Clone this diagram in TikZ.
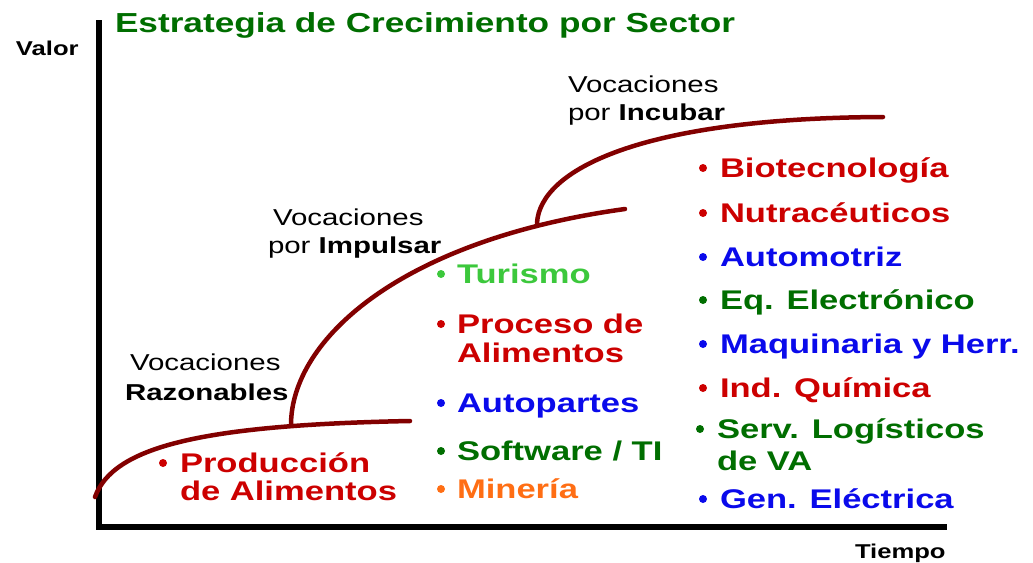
\documentclass[tikz,border=0pt]{standalone}
\usepackage{fontspec}
\setmainfont[FakeStretch=1.28]{Liberation Sans}
\definecolor{curvec}{RGB}{130,0,0}
\definecolor{itred}{RGB}{204,0,0}
\definecolor{itblue}{RGB}{10,10,235}
\definecolor{itdkgreen}{RGB}{0,110,0}
\definecolor{itltgreen}{RGB}{60,200,60}
\definecolor{itorange}{RGB}{255,110,20}
\begin{document}
\begin{tikzpicture}[x=1pt,y=-1pt,
  every node/.style={inner sep=0pt,outer sep=0pt},
  txt/.style={anchor=base west,font=\fontsize{27}{29}\selectfont\bfseries},
  voc/.style={anchor=base west,font=\fontsize{23}{26}\selectfont},
  axlab/.style={anchor=base west,font=\fontsize{20}{22}\selectfont\bfseries},
  dot/.style={circle,fill,minimum size=8pt},
  axis/.style={line width=5.5pt,black},
  growth/.style={line width=4.5pt,curvec,line cap=round}]
\useasboundingbox (0,0) rectangle (1033,562);
% axes
\coordinate (top) at (99,20);
\coordinate (orig) at (99,527);
\coordinate (right) at (947,527);
\draw[axis] (top) -- (orig) -- (right);
% labels
\node[axlab] (valor) at (16,55) {Valor};
\node[axlab] (tiempo) at (855,558) {Tiempo};
\node[anchor=base west,font=\fontsize{27.5}{30}\selectfont\bfseries,text=itdkgreen] (title) at (115,32) {Estrategia de Crecimiento por Sector};
% curves
\coordinate (c1s) at (95,497);
\coordinate (c1e) at (410,421);
\coordinate (c2s) at (291,425);
\coordinate (c2e) at (625,209);
\coordinate (c3s) at (537,223);
\coordinate (c3e) at (883,117);
\draw[growth] (c1s) .. controls (113,447) and (200,425) .. (c1e);
\draw[growth] (c2s) .. controls (291,340) and (400,240) .. (c2e);
\draw[growth] (c3s) .. controls (540,170) and (640,118) .. (c3e);
% vocaciones labels
\node[voc] (v1a) at (130,370) {Vocaciones};
\node[voc] (v1b) at (125,400) {\bfseries Razonables};
\node[voc] (v2a) at (273,225) {Vocaciones};
\node[voc] (v2b) at (268,253) {por \textbf{Impulsar}};
\node[voc] (v3a) at (568,92) {Vocaciones};
\node[voc] (v3b) at (568,120) {por \textbf{Incubar}};
% left list
\node[dot,itred] (b1) at (163,463) {};
\node[txt,text=itred] (l1a) at (180,472) {Producción};
\node[txt,text=itred] (l1b) at (180,500) {de Alimentos};
% middle list
\node[dot,itltgreen] (bm1) at (441,274) {};
\node[txt,text=itltgreen] (m1) at (457,283) {Turismo};
\node[dot,itred] (bm2) at (441,324) {};
\node[txt,text=itred] (m2a) at (457,333) {Proceso de};
\node[txt,text=itred] (m2b) at (457,362) {Alimentos};
\node[dot,itblue] (bm3) at (441,403) {};
\node[txt,text=itblue] (m3) at (457,412) {Autopartes};
\node[dot,itdkgreen] (bm4) at (441,451) {};
\node[txt,text=itdkgreen] (m4) at (457,460) {Software / TI};
\node[dot,itorange] (bm5) at (441,489) {};
\node[txt,text=itorange] (m5) at (457,498) {Minería};
% right list
\node[dot,itred] (br1) at (703,168) {};
\node[txt,text=itred] (r1) at (720,177) {Biotecnología};
\node[dot,itred] (br2) at (703,213) {};
\node[txt,text=itred] (r2) at (720,222) {Nutracéuticos};
\node[dot,itblue] (br3) at (703,257) {};
\node[txt,text=itblue] (r3) at (720,266) {Automotriz};
\node[dot,itdkgreen] (br4) at (703,300) {};
\node[txt,text=itdkgreen] (r4) at (720,309) {Eq. Electrónico};
\node[dot,itblue] (br5) at (703,344) {};
\node[txt,text=itblue] (r5) at (720,353) {Maquinaria y Herr.};
\node[dot,itred] (br6) at (703,388) {};
\node[txt,text=itred] (r6) at (720,397) {Ind. Química};
\node[dot,itdkgreen] (br7) at (700,429) {};
\node[txt,text=itdkgreen] (r7a) at (717,438) {Serv. Logísticos};
\node[txt,text=itdkgreen] (r7b) at (717,470) {de VA};
\node[dot,itblue] (br8) at (703,499) {};
\node[txt,text=itblue] (r8) at (720,508) {Gen. Eléctrica};
\end{tikzpicture}
\end{document}
